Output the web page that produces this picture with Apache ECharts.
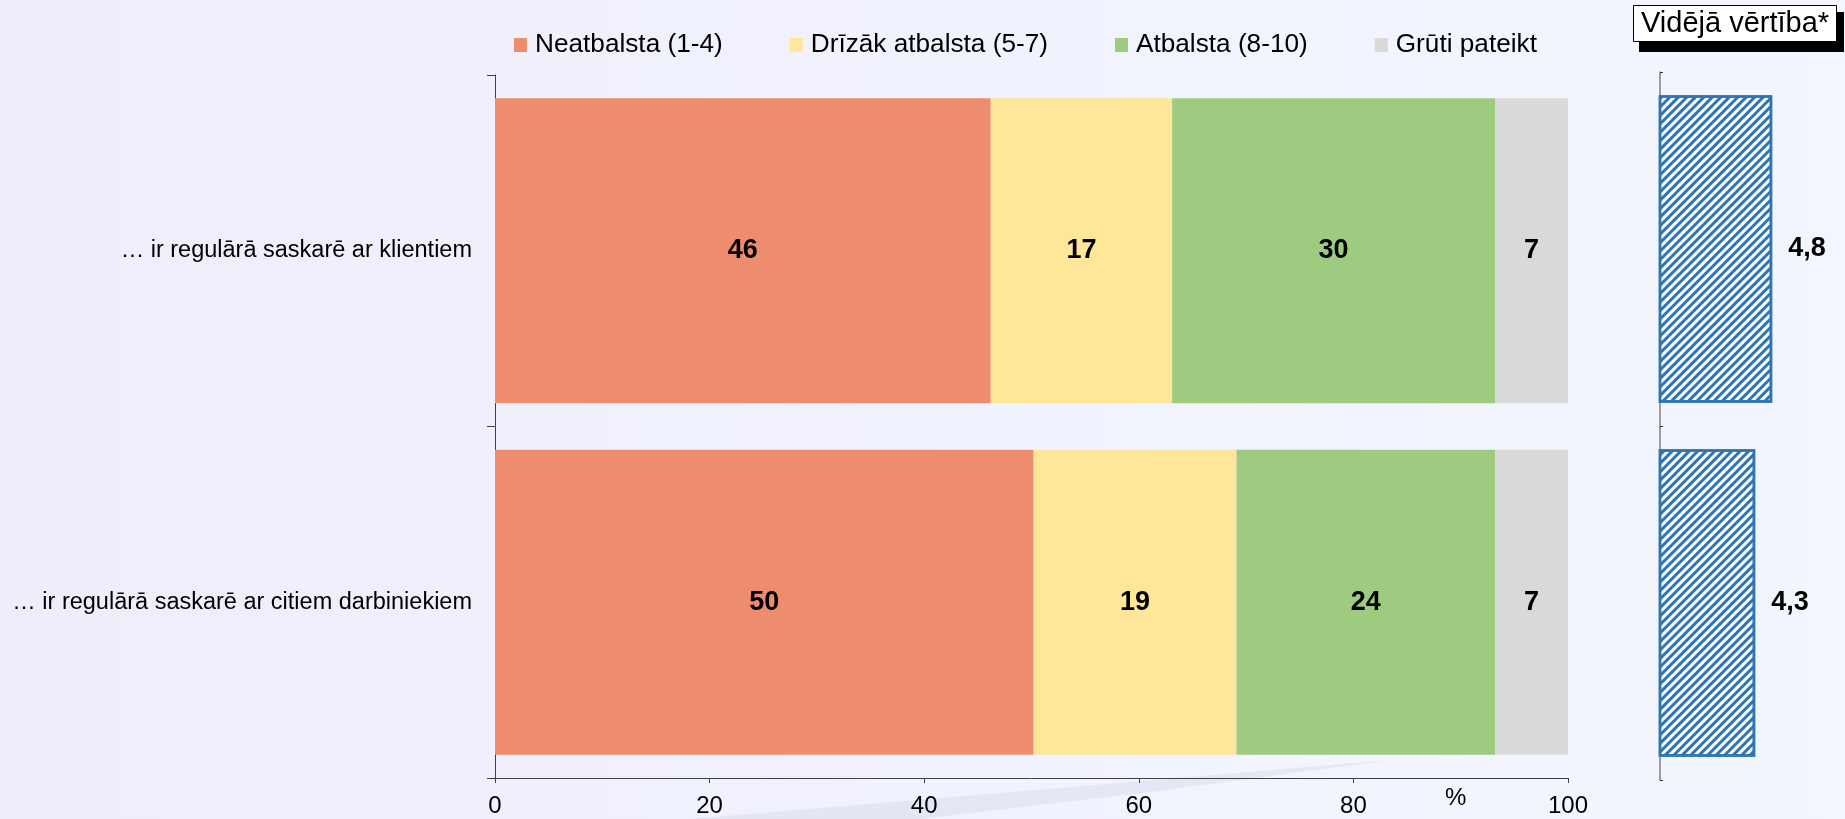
<!DOCTYPE html>
<html>
<head>
<meta charset="utf-8">
<script src="https://cdn.jsdelivr.net/npm/echarts@6/dist/echarts.min.js"></script>
<style>
html,body{margin:0;padding:0;}
#chart{width:1845px;height:819px;}
</style>
</head>
<body>
<div id="chart"></div>
<script>
const categories = ['… ir regulārā saskarē ar klientiem', '… ir regulārā saskarē ar citiem darbiniekiem'];
const seriesNames = ['Neatbalsta (1-4)', 'Drīzāk atbalsta (5-7)', 'Atbalsta (8-10)', 'Grūti pateikt'];
const neatbalsta = [46.2, 50.2];
const drizakAtbalsta = [16.9, 18.9];
const atbalsta = [30.1, 24.1];
const grutiPateikt = [6.8, 6.8];
const videjaVertiba = [4.8, 4.3];
const videjaTitle = 'Vidējā vērtība*';
const percentUnit = '%';

const FONT = "'Liberation Sans', Arial, sans-serif";
const colors = ['#EE8C6E', '#FFE699', '#9FCB81', '#D9D9D9'];
const values = [neatbalsta, drizakAtbalsta, atbalsta, grutiPateikt];

const chart = echarts.init(document.getElementById('chart'), null, {renderer: 'canvas'});

const mainSeries = values.map((v, i) => ({
  name: seriesNames[i],
  type: 'bar',
  stack: 'total',
  xAxisIndex: 0,
  yAxisIndex: 0,
  barWidth: '86.8%',
  data: v,
  itemStyle: {color: colors[i]},
  label: {
    show: true,
    position: 'inside',
    formatter: p => Math.round(p.value),
    color: '#000',
    fontFamily: FONT,
    fontWeight: 'bold',
    fontSize: 27
  }
}));

const option = {
  backgroundColor: {
    type: 'linear', x: 0, y: 0, x2: 1, y2: 0,
    colorStops: [{offset: 0, color: '#EEEEFB'}, {offset: 1, color: '#F3F6FF'}]
  },
  animation: false,
  title: {
    text: videjaTitle,
    left: 1633,
    top: 5,
    backgroundColor: '#FFFFFF',
    borderColor: '#000',
    borderWidth: 1,
    padding: [4, 8, 4, 8],
    z: 10,
    textStyle: {fontFamily: FONT, fontSize: 29, fontWeight: 'normal', color: '#000'}
  },
  legend: {
    data: seriesNames,
    left: 509,
    top: 27,
    icon: 'rect',
    itemWidth: 13,
    itemHeight: 14,
    itemGap: 67,
    textStyle: {fontFamily: FONT, fontSize: 26.2, color: '#000', padding: [0, 0, 0, 3]}
  },
  graphic: [
    {type: 'rect', z: 1, shape: {x: 1639, y: 12, width: 205, height: 40}, style: {fill: '#000'}},
    {type: 'polygon', z: 0, silent: true,
      shape: {points: [[690, 819], [1000, 793], [1390, 760], [1150, 792], [920, 819]]},
      style: {fill: 'rgba(205,208,225,0.35)'}},
    {type: 'text', z: 5, left: 1445, top: 786,
      style: {text: percentUnit, fontFamily: FONT, fontSize: 24, fill: '#000'}}
  ],
  grid: [
    {left: 495, top: 75, width: 1073, height: 703, containLabel: false},
    {left: 1660, top: 72, width: 153, height: 708, containLabel: false}
  ],
  xAxis: [
    {
      gridIndex: 0, type: 'value', min: 0, max: 100, interval: 20,
      axisLine: {show: true, lineStyle: {color: '#404040', width: 1}},
      axisTick: {show: true, inside: false, length: 5, lineStyle: {color: '#404040'}},
      splitLine: {show: false},
      axisLabel: {fontFamily: FONT, fontSize: 24, color: '#000', margin: 16}
    },
    {
      gridIndex: 1, type: 'value', min: 1.5, max: 6, show: false
    }
  ],
  yAxis: [
    {
      gridIndex: 0, type: 'category', data: categories, inverse: true,
      axisLine: {show: true, lineStyle: {color: '#404040', width: 1}},
      axisTick: {show: true, inside: false, length: 8, lineStyle: {color: '#404040'}},
      axisLabel: {fontFamily: FONT, fontSize: 23.5, color: '#000', margin: 23}
    },
    {
      gridIndex: 1, type: 'category', data: categories, inverse: true,
      axisLine: {show: true, lineStyle: {color: '#7F7F7F', width: 1.5}},
      axisTick: {show: true, inside: true, length: 3, lineStyle: {color: '#333'}},
      axisLabel: {show: false}
    }
  ],
  series: mainSeries.concat([{
    name: videjaTitle,
    type: 'bar',
    xAxisIndex: 1,
    yAxisIndex: 1,
    barWidth: '86.9%',
    data: videjaVertiba,
    itemStyle: {
      color: '#FFFFFF',
      borderColor: '#2E75B6',
      borderWidth: 2.5,
      decal: {
        symbol: 'rect',
        symbolSize: 1,
        color: '#2E75B6',
        dashArrayX: [1, 0],
        dashArrayY: [2.4, 2.2],
        rotation: -Math.PI / 4
      }
    },
    label: {
      show: true,
      position: 'right',
      distance: 16,
      formatter: p => String(p.value).replace('.', ','),
      color: '#000',
      fontFamily: FONT,
      fontWeight: 'bold',
      fontSize: 27
    }
  }])
};
chart.setOption(option);
</script>
</body>
</html>
